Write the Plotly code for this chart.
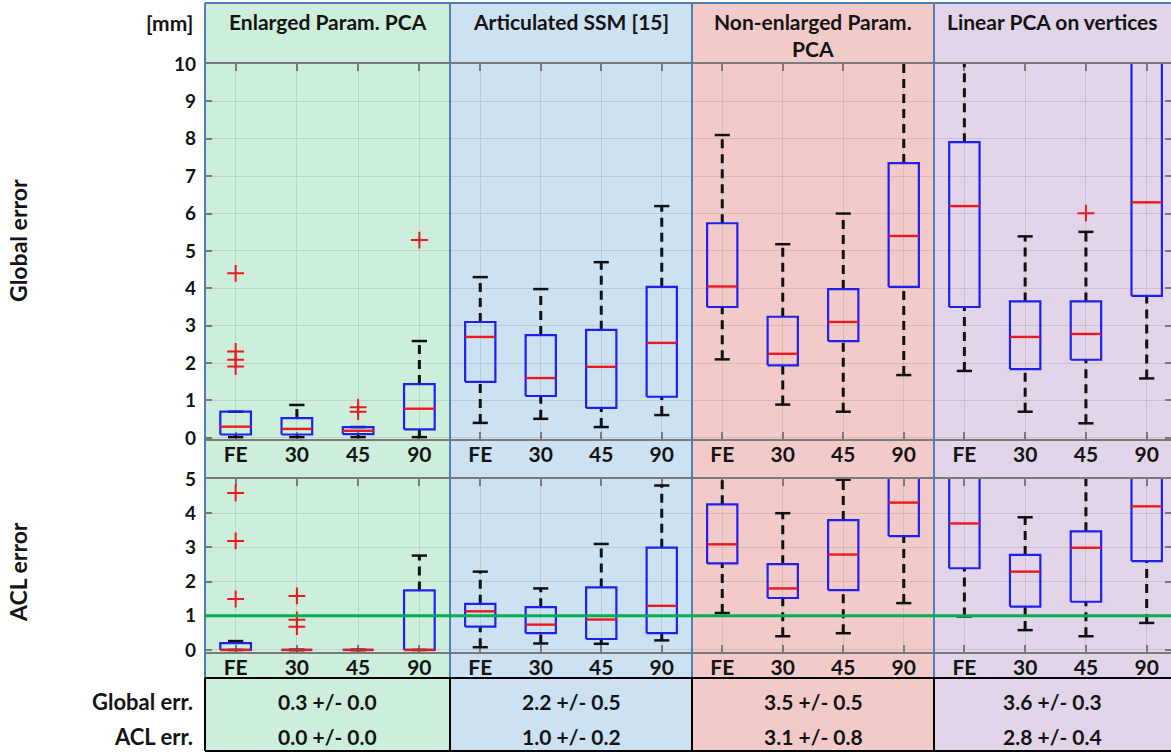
import plotly.graph_objects as go

# ---------------- data ----------------
groups = ["FE", "30", "45", "90"]
methods = ["Enlarged Param. PCA", "Articulated SSM [15]",
           "Non-enlarged Param.<br>PCA", "Linear PCA on vertices"]

# Global error [mm]  (per method, per group)
glob_low = [[0.02, 0.02, 0.02, 0.02], [0.40, 0.51, 0.29, 0.61], [2.10, 0.89, 0.70, 1.68], [1.79, 0.70, 0.39, 1.59]]
glob_q1 = [[0.09, 0.09, 0.10, 0.23], [1.50, 1.12, 0.80, 1.10], [3.50, 1.94, 2.59, 4.04], [3.50, 1.84, 2.09, 3.80]]
glob_med = [[0.30, 0.24, 0.19, 0.78], [2.70, 1.60, 1.90, 2.54], [4.05, 2.25, 3.10, 5.40], [6.20, 2.70, 2.78, 6.30]]
glob_q3 = [[0.70, 0.53, 0.29, 1.44], [3.10, 2.75, 2.89, 4.04], [5.74, 3.24, 3.98, 7.35], [7.91, 3.65, 3.65, 11.2]]
glob_high = [[0.70, 0.88, 0.29, 2.59], [4.30, 3.98, 4.70, 6.20], [8.10, 5.18, 6.00, 11.8], [11.5, 5.39, 5.51, 14.0]]
glob_out = [[[4.40, 2.31, 2.09, 1.91], [], [0.82, 0.70], [5.29]],
            [[], [], [], []],
            [[], [], [], []],
            [[], [], [6.01], []]]

# ACL error [mm]
acl_low = [[0.00, 0.00, 0.00, 0.00], [0.08, 0.19, 0.18, 0.28], [1.08, 0.40, 0.49, 1.37], [0.98, 0.58, 0.40, 0.79]]
acl_q1 = [[0.00, 0.00, 0.00, 0.00], [0.68, 0.49, 0.32, 0.49], [2.53, 1.52, 1.75, 3.33], [2.39, 1.27, 1.41, 2.60]]
acl_med = [[0.00, 0.00, 0.00, 0.00], [1.13, 0.74, 0.89, 1.29], [3.09, 1.80, 2.79, 4.31], [3.70, 2.29, 2.99, 4.20]]
acl_q3 = [[0.20, 0.00, 0.00, 1.74], [1.35, 1.25, 1.83, 2.99], [4.26, 2.51, 3.80, 5.40], [5.60, 2.78, 3.47, 5.50]]
acl_high = [[0.26, 0.00, 0.00, 2.76], [2.29, 1.80, 3.10, 4.81], [5.60, 4.00, 4.98, 6.60], [7.00, 3.88, 5.30, 6.90]]
acl_out = [[[4.59, 3.19, 1.49], [1.58, 0.88, 0.68], [], []],
           [[], [], [], []],
           [[], [], [], []],
           [[], [], [], []]]
acl_threshold = 1.0

global_mean = [0.3, 2.2, 3.5, 3.6]
global_sd = [0.0, 0.5, 0.5, 0.3]
acl_mean = [0.0, 1.0, 3.1, 2.8]
acl_sd = [0.0, 0.2, 0.8, 0.4]

# ---------------- style / layout ----------------
W, H = 1171, 753
def fx(p): return p / W
def fy(p): return 1 - p / H

panel_px = [205, 450, 692, 934, 1171]
panel_colors = ["#cdeedb", "#cce1f2", "#f3caca", "#e2d5ea"]
x_ranges = [[0.5, 4.5], [0.5, 4.5], [0.5, 4.5], [0.5, 4.4]]
row_dom = [[fy(439), fy(64)], [fy(652), fy(479)]]
row_range = [[-0.03, 10], [-0.06, 5]]
FONT = "Lato"
TXT = "#141414"
BOX_C = "#2020ee"
MED_C = "#ec1820"
WHISK_C = "#111111"
SEP_C = "#4f7fb5"
GRID_C = "rgba(60,60,60,0.13)"
AX_C = "#7a7a7a"
BW = 0.25   # half box width (category units)
CW = 0.125  # half cap width

fig = go.Figure()
positions = [1, 2, 3, 4]

for r, (low, q1, med, q3, high, outs) in enumerate([
        (glob_low, glob_q1, glob_med, glob_q3, glob_high, glob_out),
        (acl_low, acl_q1, acl_med, acl_q3, acl_high, acl_out)]):
    for i in range(4):
        k = r * 4 + i + 1
        xa = "x" if k == 1 else f"x{k}"
        ya = "y" if k == 1 else f"y{k}"
        wx, wy, cx, cy, bx, by, mx, my, ox, oy = [], [], [], [], [], [], [], [], [], []
        for j, p in enumerate(positions):
            wx += [p, p, None, p, p, None]
            wy += [q3[i][j], high[i][j], None, low[i][j], q1[i][j], None]
            cx += [p - CW, p + CW, None, p - CW, p + CW, None]
            cy += [high[i][j], high[i][j], None, low[i][j], low[i][j], None]
            bx += [p - BW, p + BW, p + BW, p - BW, p - BW, None]
            by += [q1[i][j], q1[i][j], q3[i][j], q3[i][j], q1[i][j], None]
            mx += [p - BW, p + BW, None]
            my += [med[i][j], med[i][j], None]
            for v in outs[i][j]:
                ox.append(p)
                oy.append(v)
        common = dict(xaxis=xa, yaxis=ya, showlegend=False, hoverinfo="skip")
        fig.add_trace(go.Scatter(x=wx, y=wy, mode="lines",
                                 line=dict(color=WHISK_C, width=3, dash="9px,6px"), **common))
        fig.add_trace(go.Scatter(x=cx, y=cy, mode="lines",
                                 line=dict(color=WHISK_C, width=2.5), **common))
        fig.add_trace(go.Scatter(x=bx, y=by, mode="lines",
                                 line=dict(color=BOX_C, width=2.2), **common))
        fig.add_trace(go.Scatter(x=mx, y=my, mode="lines",
                                 line=dict(color=MED_C, width=2.4), **common))
        if ox:
            fig.add_trace(go.Scatter(x=ox, y=oy, mode="markers", cliponaxis=True,
                                     marker=dict(symbol="cross-thin", size=12,
                                                 line=dict(color=MED_C, width=2)),
                                     **common))

layout = {}
for r in range(2):
    for i in range(4):
        k = r * 4 + i + 1
        xk = "xaxis" if k == 1 else f"xaxis{k}"
        yk = "yaxis" if k == 1 else f"yaxis{k}"
        ya = "y" if k == 1 else f"y{k}"
        xa = "x" if k == 1 else f"x{k}"
        layout[xk] = dict(domain=[fx(panel_px[i]), fx(panel_px[i + 1])], anchor=ya,
                          range=x_ranges[i], tickmode="array", tickvals=positions,
                          ticktext=groups, showgrid=True, gridcolor=GRID_C, gridwidth=1,
                          ticks="inside", ticklen=7, tickcolor=AX_C, tickwidth=1.5,
                          showline=True, linecolor=AX_C, linewidth=1.5, mirror="ticks",
                          zeroline=False, fixedrange=True, ticklabelstandoff=-4,
                          automargin=False, layer="below traces",
                          tickfont=dict(family=FONT, size=21, color=TXT, weight="bold"))
        ydict = dict(domain=row_dom[r], anchor=xa, range=row_range[r], dtick=1,
                     tick0=0, showgrid=True, gridcolor=GRID_C, gridwidth=1,
                     zeroline=False, showline=False, fixedrange=True, automargin=False,
                     layer="below traces")
        if i == 0:
            ydict.update(ticks="inside", ticklen=7, tickcolor=AX_C, tickwidth=1.5,
                         showticklabels=True, ticklabelstandoff=8,
                         tickfont=dict(family=FONT, size=19, color=TXT, weight="bold"))
        elif i == 3:
            ydict.update(side="right", ticks="inside", ticklen=6, tickcolor=AX_C,
                         tickwidth=1.5, showticklabels=False)
        else:
            ydict.update(ticks="", showticklabels=False)
        layout[yk] = ydict

shapes = []
for i in range(4):
    shapes.append(dict(type="rect", xref="paper", yref="paper", layer="below",
                       x0=fx(panel_px[i]), x1=fx(panel_px[i + 1]), y0=fy(751), y1=fy(2),
                       fillcolor=panel_colors[i], line=dict(width=0)))
# panel separators (blue) above table
shapes.append(dict(type="line", xref="paper", yref="paper", x0=fx(205), x1=1,
                   y0=fy(3), y1=fy(3), line=dict(color=SEP_C, width=2)))
for p in panel_px[:4]:
    shapes.append(dict(type="line", xref="paper", yref="paper", x0=fx(p), x1=fx(p),
                       y0=fy(678), y1=fy(3), line=dict(color=SEP_C, width=2)))
# table borders (black)
for yy in [678, 751]:
    shapes.append(dict(type="line", xref="paper", yref="paper", x0=fx(205), x1=1,
                       y0=fy(yy), y1=fy(yy), line=dict(color="#000000", width=2)))
for p in panel_px[:4]:
    shapes.append(dict(type="line", xref="paper", yref="paper", x0=fx(p), x1=fx(p),
                       y0=fy(751), y1=fy(678), line=dict(color="#000000", width=2)))
# ACL threshold line
shapes.append(dict(type="line", xref="paper", yref="y5", x0=fx(205), x1=1,
                   y0=acl_threshold, y1=acl_threshold, layer="above",
                   line=dict(color="#00b050", width=3)))

ann = []
def txt(text, x, y, xanchor="center", size=21, angle=0):
    ann.append(dict(text=text, x=x, y=y, xref="paper", yref="paper", xanchor=xanchor,
                    yanchor="middle", showarrow=False, textangle=angle,
                    font=dict(family=FONT, size=size, color=TXT, weight="bold")))

for i, m in enumerate(methods):
    cxp = fx((panel_px[i] + panel_px[i + 1]) / 2)
    ypos = fy(35) if "<br>" in m else fy(22)
    txt(m, cxp, ypos)
    txt(f"{global_mean[i]:.1f} +/- {global_sd[i]:.1f}", cxp, fy(701), size=21)
    txt(f"{acl_mean[i]:.1f} +/- {acl_sd[i]:.1f}", cxp, fy(736), size=21)

txt("[mm]", fx(195), fy(23), xanchor="right")
txt("Global error", fx(18), fy(241), angle=-90, size=23)
txt("ACL error", fx(18), fy(572), angle=-90, size=23)
txt("Global err.", fx(195), fy(701), xanchor="right", size=22)
txt("ACL err.", fx(195), fy(736), xanchor="right", size=22)

fig.update_layout(width=W, height=H, autosize=False,
                  margin=dict(l=0, r=0, t=0, b=0, pad=0),
                  paper_bgcolor="white", plot_bgcolor="rgba(0,0,0,0)",
                  shapes=shapes, annotations=ann,
                  font=dict(family=FONT, color=TXT), **layout)

fig.write_html("out.html", config={"displayModeBar": False},
               post_script="document.body.style.margin='0px';")
